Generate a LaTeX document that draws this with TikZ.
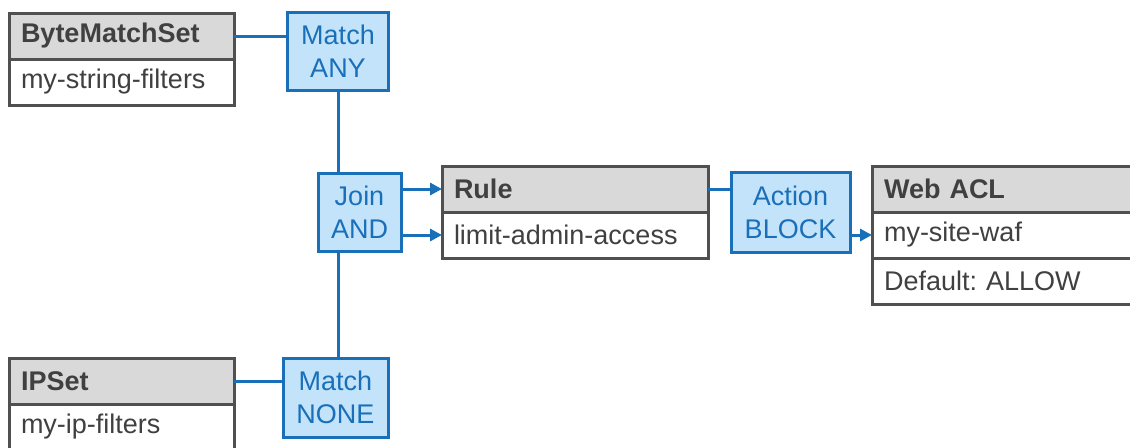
\documentclass[tikz,border=0pt]{standalone}
\usepackage{fontspec}
\setmainfont{Liberation Sans}
\usetikzlibrary{arrows.meta,positioning}
\definecolor{wafblue}{HTML}{1A70B8}
\definecolor{waffill}{HTML}{C3E3FB}
\definecolor{wafgray}{HTML}{505050}
\definecolor{hdrfill}{HTML}{D9D9D9}
\definecolor{waftext}{HTML}{404040}
\frenchspacing

\begin{document}
\begin{tikzpicture}[x=0.5pt,y=-0.5pt,>={Triangle[length=6pt,width=6pt]},node distance=23pt,
  font=\fontsize{13.5}{16.5}\selectfont,
  hdr/.style={draw=wafgray,fill=hdrfill,line width=1.5pt,minimum height=23pt,text width=#1,inner xsep=6pt,inner ysep=0pt,outer sep=0pt,text=waftext,font=\fontsize{13.5}{16.5}\selectfont\bfseries,align=left},
  row/.style={hdr=#1,fill=white,font=\fontsize{13.5}{16.5}\selectfont},
  op/.style={draw=wafblue,fill=waffill,line width=1.5pt,text=wafblue,align=center,inner sep=0pt,outer sep=0pt},
  link/.style={draw=wafblue,line width=1.5pt}]

            \path[use as bounding box,clip] (0,0) rectangle (1130,447);

            % condition sets
            \node[hdr=100.5pt,anchor=north west] (bmshdr) at (9,13) {ByteMatchSet};
            \node[row=100.5pt] (bmsbody) [below of = bmshdr] {my-string-filters};
            \node[hdr=100.5pt,anchor=north west] (iphdr) at (9,358) {IPSet};
            \node[row=100.5pt] (ipbody) [below of = iphdr] {my-ip-filters};

            % rule and web acl
            \node[hdr=121pt,anchor=north west] (rulehdr) at (442,166) {Rule};
            \node[row=121pt] (rulebody) [below of = rulehdr] {limit-admin-access};
            \node[hdr=118pt,anchor=north west] (aclhdr) at (872,166) {Web ACL};
            \node[row=118pt] (aclname) [below of = aclhdr] {my-site-waf};
            \node[row=118pt] (acldef) [below of = aclname] {Default: ALLOW};

            % operators
            \node[op,minimum width=50.5pt,minimum height=39pt] (any) at (338,51) {Match\\ANY};
            \node[op,minimum width=41.5pt,minimum height=39pt] (join) at (359.5,212) {Join\\AND};
            \node[op,minimum width=52.5pt,minimum height=39.5pt] (none) at (335.5,397.5) {Match\\NONE};
            \node[op,minimum width=59.5pt,minimum height=40pt] (act) at (790.5,212) {Action\\BLOCK};

            \draw[link] (bmshdr.east) -- (bmshdr.east -| any.west);
            \draw[link] (iphdr.east) -- (iphdr.east -| none.west);
            \draw[link] (any.south) -- (any.south |- join.north);
            \draw[link] (join.south -| any.south) -- (none.north -| any.south);
            \draw[link,->] (join.east |- rulehdr.west) -- (rulehdr.west);
            \draw[link,->] (join.east |- rulebody.west) -- (rulebody.west);
            \draw[link] (rulehdr.east) -- (rulehdr.east -| act.west);
            \draw[link,->] (act.east |- aclname.west) -- (aclname.west);

        \end{tikzpicture}
\end{document}
